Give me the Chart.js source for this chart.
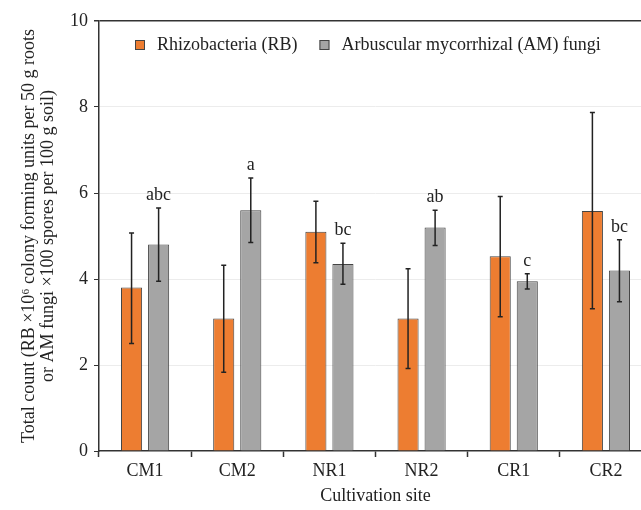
<!DOCTYPE html>
<html lang="en">
<head>
  <meta charset="UTF-8">
  <script src="https://cdn.jsdelivr.net/npm/chart.js"></script>
  <title>Cultivation site counts</title>
  <style>
    html, body { margin: 0; padding: 0; overflow: hidden; background: #fff; }
  </style>
</head>
<body>
  <canvas id="chart" width="655" height="510"></canvas>
  <script>
    const sites = ['CM1', 'CM2', 'NR1', 'NR2', 'CR1', 'CR2']
    const rbMean = [3.8, 3.08, 5.1, 3.08, 4.53, 5.58]
    const rbLow = [2.5, 1.83, 4.38, 1.92, 3.12, 3.31]
    const rbHigh = [5.07, 4.32, 5.81, 4.24, 5.92, 7.87]
    const amMean = [4.8, 5.6, 4.35, 5.2, 3.95, 4.2]
    const amLow = [3.95, 4.85, 3.88, 4.78, 3.77, 3.47]
    const amHigh = [5.65, 6.35, 4.83, 5.6, 4.12, 4.91]
    const amLetters = ['abc', 'a', 'bc', 'ab', 'c', 'bc']
    const yTicks = [0, 2, 4, 6, 8, 10]

    const serif = '"Liberation Serif", "DejaVu Serif", serif'
    const orange = '#ED7D31'
    const grey = '#A5A5A5'

    // error bars for both series
    const errorBars = {
      id: 'errorBars',
      afterDatasetsDraw(chart) {
        const ctx = chart.ctx
        const y = chart.scales.y
        const ranges = [[rbLow, rbHigh], [amLow, amHigh]]
        ctx.save()
        ctx.strokeStyle = '#222'
        ctx.lineWidth = 1.5
        ranges.forEach((r, d) => {
          chart.getDatasetMeta(d).data.forEach((bar, i) => {
            const top = y.getPixelForValue(r[1][i])
            const bot = y.getPixelForValue(r[0][i])
            ctx.beginPath()
            ctx.moveTo(bar.x, top); ctx.lineTo(bar.x, bot)
            ctx.moveTo(bar.x - 2.5, top); ctx.lineTo(bar.x + 2.5, top)
            ctx.moveTo(bar.x - 2.5, bot); ctx.lineTo(bar.x + 2.5, bot)
            ctx.stroke()
          })
        })
        // significance letters above AM bars
        ctx.fillStyle = '#222'
        ctx.font = '18px ' + serif
        ctx.textAlign = 'center'
        ctx.textBaseline = 'alphabetic'
        chart.getDatasetMeta(1).data.forEach((bar, i) => {
          ctx.fillText(amLetters[i], bar.x, y.getPixelForValue(amHigh[i]) - 8)
        })
        ctx.restore()
      }
    }

    // legend drawn inside the plot area
    const innerLegend = {
      id: 'innerLegend',
      afterDraw(chart) {
        const ctx = chart.ctx
        const area = chart.chartArea
        let x = area.left + 36
        const yc = area.top + 24
        ctx.save()
        ctx.font = '18px ' + serif
        ctx.textBaseline = 'middle'
        chart.data.datasets.forEach(ds => {
          ctx.fillStyle = ds.backgroundColor
          ctx.strokeStyle = '#444'
          ctx.lineWidth = 1
          ctx.fillRect(x, yc - 5, 10, 10)
          ctx.strokeRect(x + 0.5, yc - 4.5, 9, 9)
          ctx.fillStyle = '#222'
          ctx.fillText(ds.label, x + 22, yc)
          x += 22 + ctx.measureText(ds.label).width + 22
        })
        ctx.restore()
      }
    }

    new Chart(document.getElementById('chart'), {
      type: 'bar',
      data: {
        labels: sites,
        datasets: [{
          label: 'Rhizobacteria (RB)',
          data: rbMean,
          backgroundColor: orange,
          borderColor: '#444',
          borderWidth: 1,
          categoryPercentage: 0.587,
          barPercentage: 0.78
        }, {
          label: 'Arbuscular mycorrhizal (AM) fungi',
          data: amMean,
          backgroundColor: grey,
          borderColor: '#444',
          borderWidth: 1,
          categoryPercentage: 0.587,
          barPercentage: 0.78
        }]
      },
      options: {
        responsive: false,
        animation: false,
        layout: { padding: { top: 21, right: 3, left: 0, bottom: 0 } },
        plugins: {
          legend: { display: false },
          tooltip: { enabled: false }
        },
        scales: {
          x: {
            afterFit(scale) { scale.height = 59 },
            grid: { drawOnChartArea: false, tickLength: 6, tickColor: '#333', tickWidth: 1.5 },
            border: { color: '#333', width: 1.5 },
            ticks: { color: '#222', font: { family: serif, size: 18 }, padding: 3 },
            title: {
              display: true,
              text: 'Cultivation site',
              color: '#222',
              font: { family: serif, size: 18 },
              padding: { top: 0, bottom: 3 }
            }
          },
          y: {
            min: 0,
            max: 10,
            afterFit(scale) { scale.width = 99 },
            afterBuildTicks(scale) { scale.ticks = yTicks.map(v => ({ value: v })) },
            grid: {
              color: c => c.tick.value === 10 ? '#333' : (c.tick.value === 0 ? 'rgba(0,0,0,0)' : '#ececec'),
              lineWidth: c => c.tick.value === 10 ? 1.5 : 1,
              tickColor: '#333',
              tickLength: 5
            },
            border: { color: '#333', width: 1.5 },
            ticks: { color: '#222', font: { family: serif, size: 18 }, padding: 6 },
            title: {
              display: true,
              text: ['Total count (RB \u00d710\u2076 colony forming units per 50 g roots',
                     'or AM fungi \u00d7100 spores per 100 g soil)'],
              color: '#222',
              font: { family: serif, size: 18, lineHeight: 1.1 },
              padding: { top: 19, bottom: 0 }
            }
          }
        }
      },
      plugins: [errorBars, innerLegend]
    })
  </script>
</body>
</html>
